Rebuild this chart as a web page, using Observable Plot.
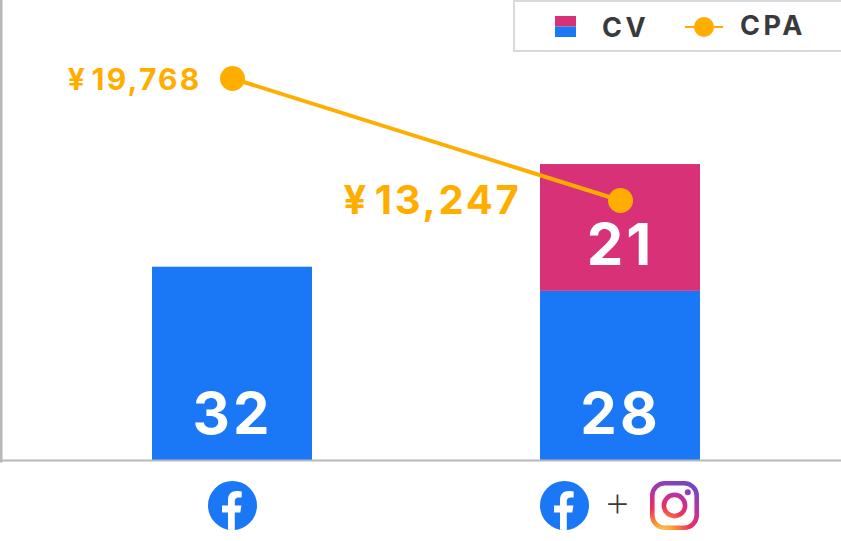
<!DOCTYPE html>
<html><head><meta charset="utf-8">
<script src="https://cdn.jsdelivr.net/npm/d3@7"></script>
<script src="https://cdn.jsdelivr.net/npm/@observablehq/plot@0.6"></script>
<style>
html,body{margin:0;padding:0;background:#fff;overflow:hidden}
#wrap{position:relative;width:841px;height:541px}
#wrap svg{display:block}
#legend{position:absolute;left:513px;top:0;width:328px;height:52px;box-sizing:border-box;border:2px solid #d6d9dd;border-right:none;background:#fff;font:700 27px Inter,sans-serif;color:#3a3a3c;letter-spacing:3.5px}
#legend span,#legend svg{position:absolute}
.cv-label text{letter-spacing:3px}
.cpa-small text{letter-spacing:2.2px}
.cpa-large text{letter-spacing:2.7px}
</style></head><body>
<div id="wrap"></div>
<script>
const channels = ["fb", "fb+ig"];
const cvFirst = [32, 28];
const cvSecond = [0, 21];
const cpa = [19768, 13247];
const cpaText = ["¥\u200A19,768", "¥\u200A13,247"];

const blue = "#1a77f5", pink = "#d93177", orange = "#ffae00", axisGrey = "#b8b8bc";

const bars = [
  ...channels.map((c, i) => ({channel: c, part: "a", cv: cvFirst[i], base: 0})),
  ...channels.map((c, i) => ({channel: c, part: "b", cv: cvSecond[i], base: cvFirst[i]}))
].filter(d => d.cv > 0);

// secondary axis for CPA, expressed in CV units
const cpaAxis = d3.scaleLinear().domain([13247, 19768]).range([43.05, 63.25]);
const cpaPts = channels.map((c, i) => ({channel: c, cpa: cpa[i], y: cpaAxis(cpa[i]), label: cpaText[i]}));

const fbIcon = "data:image/svg+xml," + encodeURIComponent(`<svg xmlns="http://www.w3.org/2000/svg" viewBox="0 0 50 50"><defs><clipPath id="c"><circle cx="25" cy="25" r="24.5"/></clipPath></defs><circle cx="25" cy="25" r="24.5" fill="${blue}"/><path clip-path="url(#c)" fill="#fff" d="M20.5 50V32H14.5V25H20.5V19.5C20.5 13.5 24 10.5 29.2 10.5C31.7 10.5 34.2 11 34.2 11V17H31.2C28.2 17 27.3 18.8 27.3 20.7V25H33.9L32.8 32H27.3V50Z"/></svg>`);

const igIcon = "data:image/svg+xml," + encodeURIComponent(`<svg xmlns="http://www.w3.org/2000/svg" viewBox="0 0 50 50"><defs><radialGradient id="g" gradientUnits="userSpaceOnUse" cx="13" cy="54" r="62"><stop offset="0" stop-color="#fed56a"/><stop offset=".2" stop-color="#fb9a34"/><stop offset=".45" stop-color="#ee2f5c"/><stop offset=".65" stop-color="#c62f9a"/><stop offset="1" stop-color="#5a4fcf"/></radialGradient></defs><g fill="none" stroke="url(#g)"><rect x="2.8" y="2.8" width="44.4" height="44.4" rx="12.5" stroke-width="4.6"/><circle cx="25" cy="25" r="10.6" stroke-width="4.6"/></g><circle cx="38.3" cy="11.7" r="3" fill="url(#g)"/></svg>`);

const font = "Inter, 'Noto Sans CJK JP', sans-serif";
const chart = Plot.plot({
  width: 841, height: 541,
  marginTop: 0, marginRight: 0, marginBottom: 81, marginLeft: 0,
  style: {background: "#fff", fontFamily: font, overflow: "visible"},
  x: {type: "band", domain: channels, range: [38, 814], paddingInner: 1 - 160 / 388, paddingOuter: (1 - 160 / 388) / 2, axis: null},
  y: {domain: [0, 76.16], axis: null},
  color: {domain: ["a", "b"], range: [blue, pink]},
  marks: [
    Plot.frame({anchor: "left", stroke: axisGrey, strokeWidth: 4, strokeOpacity: 1}),
    Plot.barY(bars, {x: "channel", y1: "base", y2: d => d.base + d.cv, fill: "part"}),
    Plot.frame({anchor: "bottom", stroke: axisGrey, strokeWidth: 2, strokeOpacity: 1}),
    Plot.text(bars, {x: "channel", y: "base", text: d => String(d.cv), fill: "#fff", fontSize: 58, fontWeight: 700, dy: -45, dx: 0, className: "cv-label"}),
    Plot.line(cpaPts, {x: "channel", y: "y", stroke: orange, strokeWidth: 4}),
    Plot.dot(cpaPts, {x: "channel", y: "y", r: 12.5, fill: orange}),
    Plot.text(cpaPts.slice(0, 1), {x: "channel", y: "y", text: "label", fill: orange, fontSize: 30, fontWeight: 700, textAnchor: "end", dx: -31, dy: 2, className: "cpa-small"}),
    Plot.text(cpaPts.slice(1), {x: "channel", y: "y", text: "label", fill: orange, fontSize: 40, fontWeight: 700, textAnchor: "end", dx: -99, dy: 1, className: "cpa-large"}),
    Plot.image(channels.slice(0, 1), {x: d => d, frameAnchor: "bottom", dy: 45, width: 50, height: 50, src: fbIcon}),
    Plot.image(channels.slice(1), {x: d => d, frameAnchor: "bottom", dy: 45, dx: -56, width: 50, height: 50, src: fbIcon}),
    Plot.image(channels.slice(1), {x: d => d, frameAnchor: "bottom", dy: 45, dx: 54, width: 50, height: 50, src: igIcon}),
    Plot.text(channels.slice(1), {x: d => d, frameAnchor: "bottom", lineAnchor: "middle", dy: 45, dx: -3, text: () => "+", fill: "#3a3a3c", fontFamily: "'Open Sans'", fontSize: 40, fontWeight: 300})
  ]
});
document.getElementById("wrap").append(chart);

const legend = document.createElement("div");
legend.id = "legend";
legend.innerHTML = `
<svg style="left:40px;top:14px" width="21" height="21"><rect width="21" height="10.5" fill="${pink}"/><rect y="10.5" width="21" height="10.5" fill="${blue}"/></svg>
<span style="left:87px;top:9px">CV</span>
<svg style="left:170px;top:13px" width="38" height="24"><line x1="0" x2="38" y1="12" y2="12" stroke="${orange}" stroke-width="2"/><circle cx="19" cy="12" r="10" fill="${orange}"/></svg>
<span style="left:225px;top:7px">CPA</span>`;
document.getElementById("wrap").append(legend);
</script>
</body></html>
